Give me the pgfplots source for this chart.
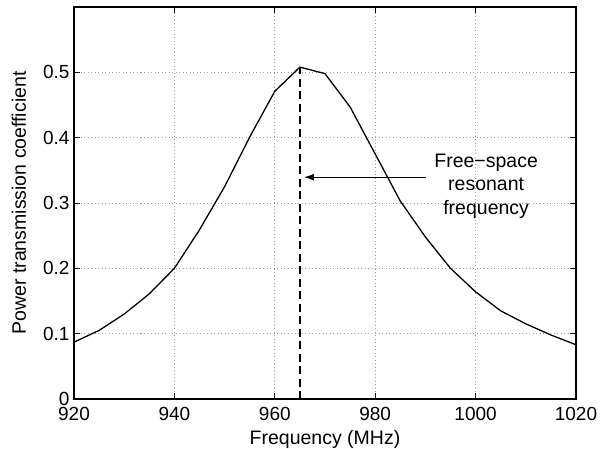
\documentclass[border=0pt]{standalone}
\usepackage{pgfplots}
\pgfplotsset{compat=1.18}
\usetikzlibrary{arrows.meta}
\usepackage{fontspec}
\setmainfont{Liberation Sans}
\begin{document}
\begin{tikzpicture}
\useasboundingbox (-74pt,-49pt) rectangle (534pt,399pt);
\begin{axis}[
  at={(0pt,0pt)}, anchor=south west,
  scale only axis,
  width=502pt, height=392pt,
  xmin=920, xmax=1020, ymin=0, ymax=0.6,
  xtick={920,940,...,1020},
  ytick={0,0.1,0.2,0.3,0.4,0.5},
  yticklabels={0,0.1,0.2,0.3,0.4,0.5},
  /pgf/number format/assume math mode=true,
  xticklabel style={/pgf/number format/1000 sep={}, yshift=-5pt},
  yticklabel style={xshift=-1pt},
  tick align=inside,
  tick pos=both,
  major tick length=6pt,
  grid=major,
  major grid style={gray!75, dash pattern=on 1pt off 2.5pt, line width=0.7pt},
  axis line style={line width=1.1pt},
  tick style={black, line width=0.8pt},
  tick label style={font=\fontsize{19}{21}\selectfont},
  label style={font=\fontsize{19.5}{22}\selectfont},
  xlabel={Frequency (MHz)},
  ylabel={Power transmission coefficient},
  xlabel style={yshift=-3pt},
  ylabel style={yshift=10pt},
]
\addplot[black, line width=1.3pt] coordinates {
(920,0.087) (925,0.105) (930,0.130) (935,0.161) (940,0.200) (945,0.259)
(950,0.325) (955,0.401) (960,0.471) (965,0.508) (970,0.498) (975,0.447)
(980,0.375) (985,0.303) (990,0.248) (995,0.200) (1000,0.164) (1005,0.135)
(1010,0.115) (1015,0.098) (1020,0.083)
};
\addplot[black, line width=2.2pt, dash pattern=on 8pt off 4.5pt] coordinates {(965,0) (965,0.508)};
\draw[-{Latex[length=10pt,width=7pt]}, line width=1.3pt] (axis cs:990.1,0.3395) -- (axis cs:965.8,0.3395);
\node[align=center, font=\fontsize{19.5}{23.5}\selectfont] at (axis cs:1002.1,0.326) {Free−space\\resonant\\frequency};
\end{axis}
\end{tikzpicture}
\end{document}
